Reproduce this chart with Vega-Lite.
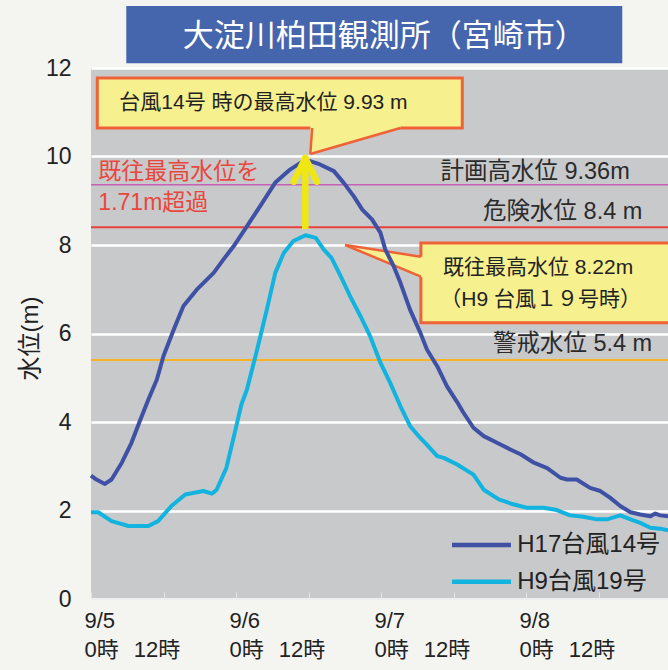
{
  "$schema": "https://vega.github.io/schema/vega-lite/v6.json",
  "width": 577,
  "height": 531,
  "autosize": {"type": "none"},
  "padding": {"left": 91, "top": 68, "right": 0, "bottom": 71},
  "background": "#f4f4f0",
  "config": {
    "view": {"fill": "#c8c9cb", "stroke": null},
    "font": "Liberation Sans, Noto Sans CJK JP",
    "text": {"font": "Liberation Sans, Noto Sans CJK JP"}
  },
  "data": {"values": [{}]},
  "datasets": {
    "levels": [
      {"series": "H17台風14号", "hour": 0, "level": 2.79},
      {"series": "H17台風14号", "hour": 0.9, "level": 2.70},
      {"series": "H17台風14号", "hour": 2.3, "level": 2.60},
      {"series": "H17台風14号", "hour": 3.4, "level": 2.70},
      {"series": "H17台風14号", "hour": 5.1, "level": 3.08},
      {"series": "H17台風14号", "hour": 6.7, "level": 3.53},
      {"series": "H17台風14号", "hour": 8.1, "level": 4.03},
      {"series": "H17台風14号", "hour": 9.5, "level": 4.51},
      {"series": "H17台風14号", "hour": 10.9, "level": 4.96},
      {"series": "H17台風14号", "hour": 12.0, "level": 5.49},
      {"series": "H17台風14号", "hour": 13.7, "level": 6.09},
      {"series": "H17台風14号", "hour": 15.3, "level": 6.62},
      {"series": "H17台風14号", "hour": 17.5, "level": 6.99},
      {"series": "H17台風14号", "hour": 20.3, "level": 7.37},
      {"series": "H17台風14号", "hour": 21.9, "level": 7.67},
      {"series": "H17台風14号", "hour": 23.6, "level": 7.97},
      {"series": "H17台風14号", "hour": 25.8, "level": 8.42},
      {"series": "H17台風14号", "hour": 28.0, "level": 8.88},
      {"series": "H17台風14号", "hour": 30.5, "level": 9.41},
      {"series": "H17台風14号", "hour": 33.0, "level": 9.71},
      {"series": "H17台風14号", "hour": 35.5, "level": 9.93},
      {"series": "H17台風14号", "hour": 37.9, "level": 9.82},
      {"series": "H17台風14号", "hour": 40.2, "level": 9.67},
      {"series": "H17台風14号", "hour": 41.8, "level": 9.41},
      {"series": "H17台風14号", "hour": 43.5, "level": 9.10},
      {"series": "H17台風14号", "hour": 44.9, "level": 8.80},
      {"series": "H17台風14号", "hour": 46.5, "level": 8.58},
      {"series": "H17台風14号", "hour": 47.9, "level": 8.28},
      {"series": "H17台風14号", "hour": 48.7, "level": 7.90},
      {"series": "H17台風14号", "hour": 50.1, "level": 7.52},
      {"series": "H17台風14号", "hour": 51.2, "level": 7.15},
      {"series": "H17台風14号", "hour": 52.8, "level": 6.54},
      {"series": "H17台風14号", "hour": 54.5, "level": 6.02},
      {"series": "H17台風14号", "hour": 55.6, "level": 5.64},
      {"series": "H17台風14号", "hour": 57.3, "level": 5.26},
      {"series": "H17台風14号", "hour": 58.9, "level": 4.81},
      {"series": "H17台風14号", "hour": 60.6, "level": 4.45},
      {"series": "H17台風14号", "hour": 61.6, "level": 4.22},
      {"series": "H17台風14号", "hour": 63.3, "level": 3.87},
      {"series": "H17台風14号", "hour": 65.0, "level": 3.68},
      {"series": "H17台風14号", "hour": 67.2, "level": 3.53},
      {"series": "H17台風14号", "hour": 69.4, "level": 3.38},
      {"series": "H17台風14号", "hour": 71.1, "level": 3.27},
      {"series": "H17台風14号", "hour": 73.3, "level": 3.08},
      {"series": "H17台風14号", "hour": 75.5, "level": 2.96},
      {"series": "H17台風14号", "hour": 77.7, "level": 2.74},
      {"series": "H17台風14号", "hour": 78.8, "level": 2.70},
      {"series": "H17台風14号", "hour": 80.4, "level": 2.70},
      {"series": "H17台風14号", "hour": 82.6, "level": 2.51},
      {"series": "H17台風14号", "hour": 84.3, "level": 2.44},
      {"series": "H17台風14号", "hour": 85.9, "level": 2.29},
      {"series": "H17台風14号", "hour": 87.6, "level": 2.10},
      {"series": "H17台風14号", "hour": 89.3, "level": 1.96},
      {"series": "H17台風14号", "hour": 90.9, "level": 1.91},
      {"series": "H17台風14号", "hour": 92.6, "level": 1.87},
      {"series": "H17台風14号", "hour": 93.4, "level": 1.93},
      {"series": "H17台風14号", "hour": 94.2, "level": 1.89},
      {"series": "H17台風14号", "hour": 95.5, "level": 1.87},
      {"series": "H9台風19号", "hour": 0, "level": 1.96},
      {"series": "H9台風19号", "hour": 1.2, "level": 1.96},
      {"series": "H9台風19号", "hour": 3.4, "level": 1.76},
      {"series": "H9台風19号", "hour": 6.2, "level": 1.65},
      {"series": "H9台風19号", "hour": 9.5, "level": 1.65},
      {"series": "H9台風19号", "hour": 11.1, "level": 1.76},
      {"series": "H9台風19号", "hour": 13.3, "level": 2.10},
      {"series": "H9台風19号", "hour": 15.6, "level": 2.36},
      {"series": "H9台風19号", "hour": 18.6, "level": 2.44},
      {"series": "H9台風19号", "hour": 20.0, "level": 2.38},
      {"series": "H9台風19号", "hour": 20.8, "level": 2.47},
      {"series": "H9台風19号", "hour": 22.4, "level": 2.96},
      {"series": "H9台風19号", "hour": 23.8, "level": 3.76},
      {"series": "H9台風19号", "hour": 24.9, "level": 4.40},
      {"series": "H9台風19号", "hour": 25.8, "level": 4.73},
      {"series": "H9台風19号", "hour": 27.5, "level": 5.64},
      {"series": "H9台風19号", "hour": 29.1, "level": 6.54},
      {"series": "H9台風19号", "hour": 30.5, "level": 7.37},
      {"series": "H9台風19号", "hour": 31.9, "level": 7.82},
      {"series": "H9台風19号", "hour": 33.5, "level": 8.09},
      {"series": "H9台風19号", "hour": 35.5, "level": 8.22},
      {"series": "H9台風19号", "hour": 37.2, "level": 8.16},
      {"series": "H9台風19号", "hour": 38.5, "level": 7.90},
      {"series": "H9台風19号", "hour": 39.8, "level": 7.71},
      {"series": "H9台風19号", "hour": 41.3, "level": 7.30},
      {"series": "H9台風19号", "hour": 42.9, "level": 6.84},
      {"series": "H9台風19号", "hour": 44.6, "level": 6.39},
      {"series": "H9台風19号", "hour": 46.2, "level": 5.94},
      {"series": "H9台風19号", "hour": 47.9, "level": 5.34},
      {"series": "H9台風19号", "hour": 49.5, "level": 4.89},
      {"series": "H9台風19号", "hour": 51.2, "level": 4.36},
      {"series": "H9台風19号", "hour": 52.8, "level": 3.91},
      {"series": "H9台風19号", "hour": 54.5, "level": 3.64},
      {"series": "H9台風19号", "hour": 55.5, "level": 3.50},
      {"series": "H9台風19号", "hour": 57.3, "level": 3.23},
      {"series": "H9台風19号", "hour": 58.4, "level": 3.19},
      {"series": "H9台風19号", "hour": 60.6, "level": 3.04},
      {"series": "H9台風19号", "hour": 63.3, "level": 2.81},
      {"series": "H9台風19号", "hour": 65.0, "level": 2.47},
      {"series": "H9台風19号", "hour": 67.5, "level": 2.25},
      {"series": "H9台風19号", "hour": 69.9, "level": 2.14},
      {"series": "H9台風19号", "hour": 72.2, "level": 2.06},
      {"series": "H9台風19号", "hour": 74.9, "level": 2.06},
      {"series": "H9台風19号", "hour": 77.1, "level": 2.01},
      {"series": "H9台風19号", "hour": 79.3, "level": 1.89},
      {"series": "H9台風19号", "hour": 81.5, "level": 1.86},
      {"series": "H9台風19号", "hour": 83.7, "level": 1.80},
      {"series": "H9台風19号", "hour": 85.4, "level": 1.80},
      {"series": "H9台風19号", "hour": 87.6, "level": 1.89},
      {"series": "H9台風19号", "hour": 89.3, "level": 1.80},
      {"series": "H9台風19号", "hour": 90.9, "level": 1.72},
      {"series": "H9台風19号", "hour": 92.6, "level": 1.61},
      {"series": "H9台風19号", "hour": 94.2, "level": 1.59},
      {"series": "H9台風19号", "hour": 95.5, "level": 1.55}
    ],
    "peakPointer": [
      {"hour": 36.3, "level": 10.056, "level2": 10.69},
      {"hour": 51.2, "level": 10.644, "level2": 10.69}
    ],
    "recordPointer": [
      {"hour": 42.07, "level": 8.0, "level2": 8.0},
      {"hour": 55.0, "level": 7.261, "level2": 7.728}
    ]
  },
  "layer": [
    {
      "mark": {"type": "rule", "color": "#c661b6", "strokeWidth": 1.5},
      "encoding": {
        "y": {"datum": 9.36, "type": "quantitative", "scale": {"domain": [0, 12], "nice": false}}
      }
    },
    {
      "mark": {"type": "rule", "color": "#e8403a", "strokeWidth": 2},
      "encoding": {"y": {"datum": 8.4, "type": "quantitative"}}
    },
    {
      "mark": {"type": "rule", "color": "#f8b322", "strokeWidth": 2},
      "encoding": {"y": {"datum": 5.4, "type": "quantitative"}}
    },
    {
      "mark": {"type": "rect", "fill": "#4565ad"},
      "encoding": {
        "x": {"datum": 5.84, "type": "quantitative", "scale": {"domain": [0, 95.5], "nice": false, "zero": false}},
        "x2": {"datum": 87.93},
        "y": {"datum": 12.11, "type": "quantitative"},
        "y2": {"datum": 13.4}
      }
    },
    {
      "mark": {"type": "text", "align": "left", "baseline": "middle", "fontSize": 31, "color": "#ffffff"},
      "encoding": {
        "x": {"datum": 15.2, "type": "quantitative"},
        "y": {"datum": 12.7, "type": "quantitative"},
        "text": {"value": "大淀川柏田観測所（宮崎市）"}
      }
    },
    {
      "mark": {"type": "rect", "fill": "#f6f08f", "stroke": "#ef6237", "strokeWidth": 3},
      "encoding": {
        "x": {"datum": 1.04, "type": "quantitative"},
        "x2": {"datum": 61.45},
        "y": {"datum": 10.644, "type": "quantitative"},
        "y2": {"datum": 11.774}
      }
    },
    {
      "mark": {"type": "rect", "fill": "#f6f08f", "stroke": "#ef6237", "strokeWidth": 3},
      "encoding": {
        "x": {"datum": 54.6, "type": "quantitative"},
        "x2": {"datum": 97},
        "y": {"datum": 6.244, "type": "quantitative"},
        "y2": {"datum": 8.045}
      }
    },
    {
      "data": {"name": "peakPointer"},
      "mark": {"type": "area", "color": "#f6f08f"},
      "encoding": {
        "x": {"field": "hour", "type": "quantitative"},
        "y": {"field": "level", "type": "quantitative"},
        "y2": {"field": "level2"}
      }
    },
    {
      "data": {"name": "recordPointer"},
      "mark": {"type": "area", "color": "#f6f08f"},
      "encoding": {
        "x": {"field": "hour", "type": "quantitative"},
        "y": {"field": "level", "type": "quantitative"},
        "y2": {"field": "level2"}
      }
    },
    {
      "mark": {"type": "rule", "color": "#ef6237", "strokeWidth": 2.5},
      "encoding": {
        "x": {"datum": 36.6, "type": "quantitative"},
        "x2": {"datum": 36.3},
        "y": {"datum": 10.644, "type": "quantitative"},
        "y2": {"datum": 10.056}
      }
    },
    {
      "mark": {"type": "rule", "color": "#ef6237", "strokeWidth": 2.5},
      "encoding": {
        "x": {"datum": 36.3, "type": "quantitative"},
        "x2": {"datum": 51.2},
        "y": {"datum": 10.056, "type": "quantitative"},
        "y2": {"datum": 10.644}
      }
    },
    {
      "mark": {"type": "rule", "color": "#ef6237", "strokeWidth": 2.5},
      "encoding": {
        "x": {"datum": 42.07, "type": "quantitative"},
        "x2": {"datum": 54.6},
        "y": {"datum": 8.0, "type": "quantitative"},
        "y2": {"datum": 7.736}
      }
    },
    {
      "mark": {"type": "rule", "color": "#ef6237", "strokeWidth": 2.5},
      "encoding": {
        "x": {"datum": 42.07, "type": "quantitative"},
        "x2": {"datum": 54.6},
        "y": {"datum": 8.0, "type": "quantitative"},
        "y2": {"datum": 7.284}
      }
    },
    {
      "data": {"name": "levels"},
      "mark": {"type": "line", "strokeWidth": 4, "strokeJoin": "round"},
      "encoding": {
        "x": {
          "field": "hour",
          "type": "quantitative",
          "scale": {"domain": [0, 95.5], "nice": false, "zero": false},
          "axis": {
            "title": null,
            "grid": false,
            "values": [0, 6, 12, 18, 24, 30, 36, 42, 48, 54, 60, 66, 72, 78, 84, 90],
            "labelExpr": "datum.value % 24 === 0 ? ['9/' + (5 + datum.value / 24), '0時'] : (datum.value % 12 === 0 ? ['', '12時'] : '')",
            "labelAlign": {"condition": {"test": "datum.value % 24 === 0", "value": "left"}, "value": "center"},
            "labelOffset": -7,
            "labelBaseline": "top",
            "labelLineHeight": 29.5,
            "labelPadding": 18,
            "labelFontSize": 22,
            "labelColor": "#222222",
            "labelOverlap": false,
            "labelFlush": false,
            "labelBound": false,
            "tickSize": -7,
            "tickColor": "#e4e4e4",
            "tickWidth": 1,
            "domainColor": "#eeeeee",
            "domainWidth": 2
          }
        },
        "y": {
          "field": "level",
          "type": "quantitative",
          "scale": {"domain": [0, 12], "nice": false},
          "axis": {
            "values": [0, 2, 4, 6, 8, 10, 12],
            "title": "水位(m)",
            "titleFontSize": 24,
            "titleFontWeight": "normal",
            "titleColor": "#222222",
            "titleAngle": -90,
            "titleX": -61,
            "titleY": 270,
            "titleAlign": "center",
            "titleBaseline": "middle",
            "labelFontSize": 23,
            "labelPadding": 20,
            "labelColor": "#222222",
            "ticks": false,
            "domain": false,
            "grid": true,
            "gridColor": "#ffffff",
            "gridWidth": 2.5
          }
        },
        "color": {
          "field": "series",
          "type": "nominal",
          "scale": {"domain": ["H17台風14号", "H9台風19号"], "range": ["#3f51a5", "#12b3de"]},
          "legend": null
        }
      }
    },
    {
      "mark": {"type": "rule", "color": "#efe714", "strokeWidth": 6.5, "strokeCap": "butt"},
      "encoding": {
        "x": {"datum": 35.47, "type": "quantitative"},
        "y": {"datum": 8.36, "type": "quantitative"},
        "y2": {"datum": 9.95}
      }
    },
    {
      "mark": {"type": "rule", "color": "#efe714", "strokeWidth": 6.5, "strokeCap": "round"},
      "encoding": {
        "x": {"datum": 35.47, "type": "quantitative"},
        "x2": {"datum": 33.55},
        "y": {"datum": 9.97, "type": "quantitative"},
        "y2": {"datum": 9.43}
      }
    },
    {
      "mark": {"type": "rule", "color": "#efe714", "strokeWidth": 6.5, "strokeCap": "round"},
      "encoding": {
        "x": {"datum": 35.47, "type": "quantitative"},
        "x2": {"datum": 37.4},
        "y": {"datum": 9.97, "type": "quantitative"},
        "y2": {"datum": 9.43}
      }
    },
    {
      "mark": {"type": "text", "align": "left", "baseline": "middle", "fontSize": 21, "color": "#222222"},
      "encoding": {
        "x": {"datum": 4.69, "type": "quantitative"},
        "y": {"datum": 11.21, "type": "quantitative"},
        "text": {"value": "台風14号 時の最高水位 9.93 m"}
      }
    },
    {
      "mark": {"type": "text", "align": "left", "baseline": "middle", "fontSize": 23, "color": "#e8473e"},
      "encoding": {
        "x": {"datum": 1.22, "type": "quantitative"},
        "y": {"datum": 9.657, "type": "quantitative"},
        "text": {"value": "既往最高水位を"}
      }
    },
    {
      "mark": {"type": "text", "align": "left", "baseline": "middle", "fontSize": 23, "color": "#e8473e"},
      "encoding": {
        "x": {"datum": 1.22, "type": "quantitative"},
        "y": {"datum": 8.942, "type": "quantitative"},
        "text": {"value": "1.71m超過"}
      }
    },
    {
      "mark": {"type": "text", "align": "center", "baseline": "middle", "fontSize": 23.5, "color": "#2b2b2b"},
      "encoding": {
        "x": {"datum": 73.5, "type": "quantitative"},
        "y": {"datum": 9.657, "type": "quantitative"},
        "text": {"value": "計画高水位 9.36m"}
      }
    },
    {
      "mark": {"type": "text", "align": "center", "baseline": "middle", "fontSize": 23.5, "color": "#2b2b2b"},
      "encoding": {
        "x": {"datum": 78.07, "type": "quantitative"},
        "y": {"datum": 8.753, "type": "quantitative"},
        "text": {"value": "危険水位 8.4 m"}
      }
    },
    {
      "mark": {"type": "text", "align": "center", "baseline": "middle", "fontSize": 23.5, "color": "#2b2b2b"},
      "encoding": {
        "x": {"datum": 79.7, "type": "quantitative"},
        "y": {"datum": 5.763, "type": "quantitative"},
        "text": {"value": "警戒水位 5.4 m"}
      }
    },
    {
      "mark": {"type": "text", "align": "left", "baseline": "middle", "fontSize": 21, "color": "#222222"},
      "encoding": {
        "x": {"datum": 58.26, "type": "quantitative"},
        "y": {"datum": 7.48, "type": "quantitative"},
        "text": {"value": "既往最高水位 8.22m"}
      }
    },
    {
      "mark": {"type": "text", "align": "left", "baseline": "middle", "fontSize": 21, "color": "#222222"},
      "encoding": {
        "x": {"datum": 57.8, "type": "quantitative"},
        "y": {"datum": 6.757, "type": "quantitative"},
        "text": {"value": "（H9 台風１９号時）"}
      }
    },
    {
      "mark": {"type": "rule", "color": "#3f51a5", "strokeWidth": 4.5},
      "encoding": {
        "x": {"datum": 59.75, "type": "quantitative"},
        "x2": {"datum": 69.51},
        "y": {"datum": 1.22, "type": "quantitative"}
      }
    },
    {
      "mark": {"type": "rule", "color": "#12b3de", "strokeWidth": 4.5},
      "encoding": {
        "x": {"datum": 59.75, "type": "quantitative"},
        "x2": {"datum": 69.51},
        "y": {"datum": 0.391, "type": "quantitative"}
      }
    },
    {
      "mark": {"type": "text", "align": "left", "baseline": "middle", "fontSize": 24, "color": "#222222"},
      "encoding": {
        "x": {"datum": 70.55, "type": "quantitative"},
        "y": {"datum": 1.22, "type": "quantitative"},
        "text": {"value": "H17台風14号"}
      }
    },
    {
      "mark": {"type": "text", "align": "left", "baseline": "middle", "fontSize": 24, "color": "#222222"},
      "encoding": {
        "x": {"datum": 70.55, "type": "quantitative"},
        "y": {"datum": 0.391, "type": "quantitative"},
        "text": {"value": "H9台風19号"}
      }
    }
  ]
}
